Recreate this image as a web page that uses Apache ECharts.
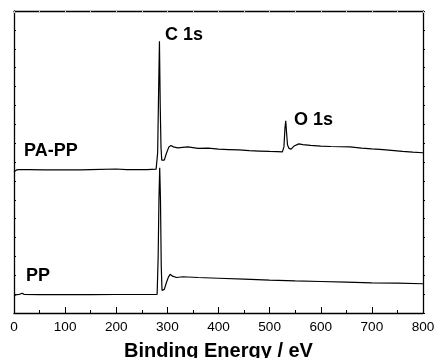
<!DOCTYPE html>
<html>
<head>
<meta charset="utf-8">
<script src="https://cdn.jsdelivr.net/npm/echarts@6/dist/echarts.min.js"></script>
<style>
  html, body { margin: 0; padding: 0; background: #fff; }
  #chart { width: 434px; height: 358px; }
</style>
</head>
<body>
<div id="chart"></div>
<script>
// binding energy (eV) and offset intensity (a.u.)
const paEnergy = [0, 5, 10, 30, 60, 100, 130, 150, 200, 220, 260, 278, 281, 283, 284.5, 286, 287.5, 289, 291, 294, 298, 303, 307, 312, 320, 340, 360, 380, 400, 420, 440, 460, 480, 500, 515, 525, 528, 530, 531.5, 533, 535, 538, 542, 548, 557, 565, 580, 600, 620, 657, 680, 700, 722, 760, 780, 800]
const paCounts = [7.48, 7.58, 7.60, 7.60, 7.58, 7.59, 7.58, 7.60, 7.63, 7.60, 7.60, 7.62, 8.5, 12.0, 14.4, 11.0, 8.8, 8.1, 8.0, 8.1, 8.45, 8.8, 8.87, 8.8, 8.75, 8.8, 8.72, 8.74, 8.68, 8.66, 8.64, 8.6, 8.58, 8.56, 8.55, 8.54, 8.8, 9.8, 10.18, 9.6, 8.9, 8.72, 8.68, 8.85, 8.96, 8.92, 8.88, 8.84, 8.82, 8.8, 8.74, 8.7, 8.66, 8.56, 8.52, 8.49]

const ppEnergy = [0, 5, 10, 16, 20, 50, 100, 150, 200, 250, 280, 282, 283.5, 285, 286.5, 288, 289.5, 291, 294, 298, 302, 305.5, 310, 318, 330, 360, 400, 450, 500, 550, 600, 650, 700, 750, 800]
const ppCounts = [0.92, 0.97, 0.98, 1.05, 0.98, 0.97, 0.98, 0.97, 0.98, 0.98, 0.99, 3.0, 6.0, 7.7, 6.0, 2.5, 1.2, 1.12, 1.25, 1.6, 1.9, 2.05, 1.95, 1.88, 1.92, 1.88, 1.84, 1.79, 1.74, 1.7, 1.67, 1.64, 1.6, 1.58, 1.55]

const xTicks = [0, 100, 200, 300, 400, 500, 600, 700, 800]

const zip = (xs, ys) => xs.map((x, i) => [x, ys[i]])

const chart = echarts.init(document.getElementById('chart'), null, { renderer: 'canvas' })

const font = 'Liberation Sans, Arial, sans-serif'
const frame = { show: true, onZero: false, lineStyle: { color: '#000', width: 1.3 } }

const option = {
  animation: false,
  backgroundColor: '#fff',
  grid: { left: 14, right: 11, top: 11, bottom: 45, containLabel: false, outerBoundsMode: 'none' },
  xAxis: [
    {
      type: 'value',
      min: xTicks[0],
      max: xTicks[xTicks.length - 1],
      interval: 100,
      axisLine: frame,
      axisTick: { inside: true, length: 6, lineStyle: { color: '#000', width: 1 } },
      minorTick: { show: true, splitNumber: 2, length: 3, lineStyle: { color: '#000', width: 1 } },
      splitLine: { show: false },
      axisLabel: { color: '#000', fontSize: 13.6, fontFamily: font, margin: 7 },
      name: 'Binding Energy / eV',
      nameLocation: 'middle',
      nameGap: 28,
      nameTextStyle: { color: '#000', fontSize: 20, fontWeight: 'bold', fontFamily: font, verticalAlign: 'top' },
    },
    {
      type: 'value',
      position: 'top',
      min: 0,
      max: 800,
      interval: 50,
      axisLine: frame,
      axisTick: { inside: true, length: 2, lineStyle: { color: '#ccc', width: 1 } },
      axisLabel: { show: false },
      splitLine: { show: false },
    },
  ],
  yAxis: [
    {
      type: 'value',
      min: 0,
      max: 16,
      interval: 1,
      axisLine: frame,
      axisTick: { inside: true, length: 2, lineStyle: { color: '#000', width: 1 } },
      axisLabel: { show: false },
      splitLine: { show: false },
    },
    {
      type: 'value',
      position: 'right',
      min: 0,
      max: 16,
      interval: 1,
      axisLine: frame,
      axisTick: { inside: false, length: 2, lineStyle: { color: '#000', width: 1 } },
      axisLabel: { show: false },
      splitLine: { show: false },
    },
  ],
  series: [
    {
      name: 'PA-PP',
      type: 'line',
      data: zip(paEnergy, paCounts),
      showSymbol: false,
      lineStyle: { color: '#000', width: 1.2 },
    },
    {
      name: 'PP',
      type: 'line',
      data: zip(ppEnergy, ppCounts),
      showSymbol: false,
      lineStyle: { color: '#000', width: 1.2 },
    },
  ],
  graphic: [
    { type: 'text', left: 165, top: 26, style: { text: 'C 1s', font: 'bold 18px ' + font, fill: '#000' } },
    { type: 'text', left: 294, top: 111, style: { text: 'O 1s', font: 'bold 18px ' + font, fill: '#000' } },
    { type: 'text', left: 24, top: 142, style: { text: 'PA-PP', font: 'bold 18px ' + font, fill: '#000' } },
    { type: 'text', left: 26, top: 267, style: { text: 'PP', font: 'bold 18px ' + font, fill: '#000' } },
  ],
}

chart.setOption(option)
</script>
</body>
</html>
